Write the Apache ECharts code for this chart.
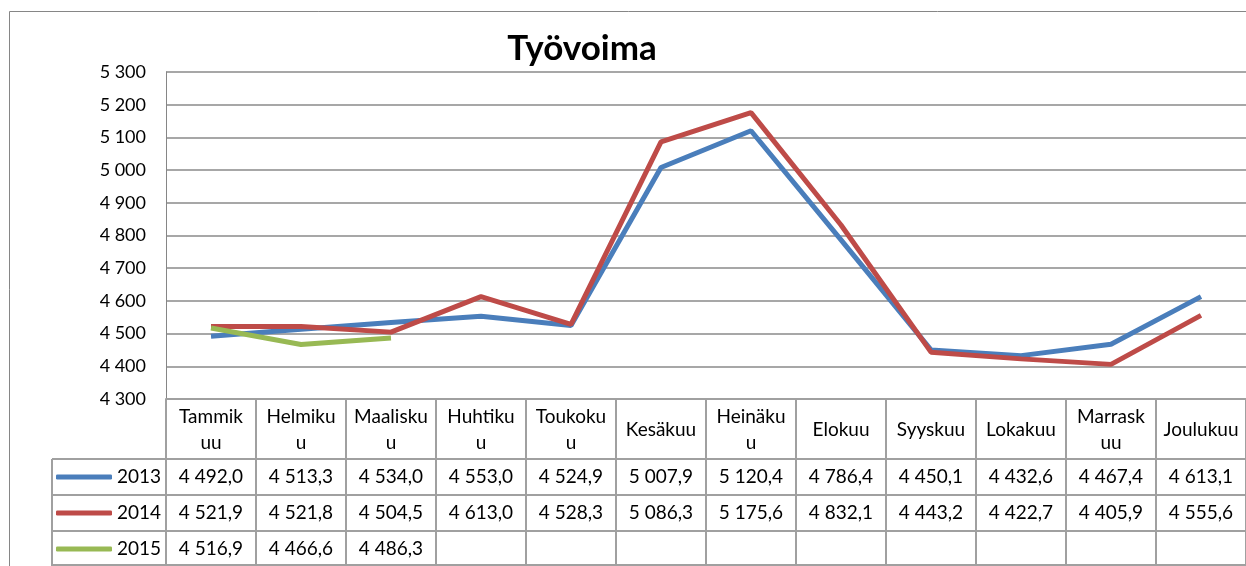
<!DOCTYPE html>
<html>
<head>
<meta charset="utf-8">
<script src="https://cdn.jsdelivr.net/npm/echarts@6/dist/echarts.min.js"></script>
<style>
  html, body { margin: 0; padding: 0; background: #fff; }
  #chart { width: 1246px; height: 566px; }
</style>
</head>
<body>
<div id="chart"></div>
<script>
// months as shown in the data table header (Excel wraps them in the column)
const monthLabels = ["Tammik\nuu", "Helmiku\nu", "Maalisku\nu", "Huhtiku\nu", "Toukoku\nu", "Kesäkuu",
  "Heinäku\nu", "Elokuu", "Syyskuu", "Lokakuu", "Marrask\nuu", "Joulukuu"];
const seriesNames = ["2013", "2014", "2015"];
const values2013 = [4492.0, 4513.3, 4534.0, 4553.0, 4524.9, 5007.9, 5120.4, 4786.4, 4450.1, 4432.6, 4467.4, 4613.1];
const values2014 = [4521.9, 4521.8, 4504.5, 4613.0, 4528.3, 5086.3, 5175.6, 4832.1, 4443.2, 4422.7, 4405.9, 4555.6];
const values2015 = [4516.9, 4466.6, 4486.3, null, null, null, null, null, null, null, null, null];
const colors = ["#4a7ebb", "#be4b48", "#98b954"];

const FONT = "Lato";
const gridTop = 72, plotBottom = 399;
const rowCenters = [477, 513, 549];
const tableLine = "#a0a0a0";

function fmtThousands(v) {
  return String(v).replace(/\B(?=(\d{3})+(?!\d))/g, " ");
}
function fmtCell(v) {
  if (v === null || v === undefined) return "";
  const parts = v.toFixed(1).split(".");
  return fmtThousands(parts[0]) + "," + parts[1];
}

const chart = echarts.init(document.getElementById("chart"));
const allValues = [values2013, values2014, values2015];

// one extra category axis per table row, just for the value labels
const valueAxes = allValues.map((vals, i) => ({
  type: "category",
  gridIndex: 0,
  position: "bottom",
  data: vals.map(fmtCell),
  boundaryGap: true,
  axisLine: { show: false },
  axisTick: { show: false },
  splitLine: { show: false },
  axisLabel: {
    interval: 0,
    margin: rowCenters[i] - plotBottom,
    verticalAlign: "middle",
    fontFamily: FONT,
    fontSize: 19,
    color: "#000",
  },
}));

const tableGraphics = [];
[459, 495, 531, 565].forEach((y) => {
  tableGraphics.push({
    type: "line",
    shape: { x1: 52, y1: y, x2: 1246, y2: y },
    style: { stroke: tableLine, lineWidth: 2 },
    silent: true,
  });
});
tableGraphics.push({
  type: "line",
  shape: { x1: 52, y1: 459, x2: 52, y2: 566 },
  style: { stroke: tableLine, lineWidth: 2 },
  silent: true,
});
tableGraphics.push({
  type: "rect",
  shape: { x: 9.5, y: 11.5, width: 1300, height: 600 },
  style: { stroke: "#868686", fill: null, lineWidth: 1 },
  silent: true,
  z: -1,
});

const option = {
  animation: false,
  backgroundColor: "#fff",
  title: {
    text: "Työvoima",
    left: 577,
    textAlign: "center",
    top: 26,
    textStyle: { fontFamily: FONT, fontSize: 35, fontWeight: "bold", color: "#000" },
  },
  legend: {
    data: seriesNames,
    orient: "vertical",
    left: 56,
    top: rowCenters[0] - 10,
    padding: 0,
    height: 110,
    icon: "roundRect",
    itemWidth: 56,
    itemHeight: 5,
    itemGap: 16,
    textStyle: { fontFamily: FONT, fontSize: 19, lineHeight: 20, color: "#000" },
  },
  grid: { left: 166, top: gridTop, width: 1082, height: plotBottom - gridTop },
  xAxis: [
    {
      type: "category",
      data: monthLabels,
      boundaryGap: true,
      axisLine: { show: true, lineStyle: { color: tableLine, width: 2 } },
      axisTick: {
        show: true,
        interval: 0,
        length: 566 - plotBottom,
        lineStyle: { color: tableLine, width: 2 },
      },
      axisLabel: {
        interval: 0,
        margin: 31,
        verticalAlign: "middle",
        lineHeight: 26,
        fontFamily: FONT,
        fontSize: 19,
        color: "#000",
      },
    },
    ...valueAxes,
  ],
  yAxis: {
    type: "value",
    min: 4300,
    max: 5300,
    interval: 100,
    axisLine: { show: true, lineStyle: { color: "#868686" } },
    axisTick: { show: false },
    axisLabel: {
      margin: 20,
      fontFamily: FONT,
      fontSize: 18,
      color: "#000",
      formatter: (v) => fmtThousands(v),
    },
    splitLine: { show: true, lineStyle: { color: "#8a8a8a", width: 1.5 } },
  },
  graphic: tableGraphics,
  series: allValues.map((vals, i) => ({
    name: seriesNames[i],
    type: "line",
    data: vals,
    xAxisIndex: 0,
    symbol: "none",
    connectNulls: false,
    lineStyle: { color: colors[i], width: 5 },
    itemStyle: { color: colors[i] },
  })),
};

chart.setOption(option);
</script>
</body>
</html>
